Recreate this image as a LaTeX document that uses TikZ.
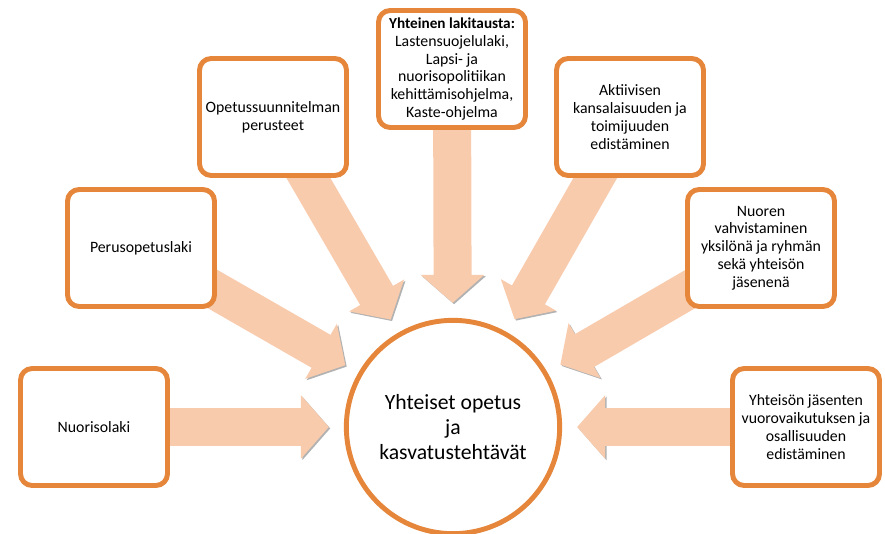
\documentclass[tikz,border=0pt]{standalone}
\usepackage{fontspec}
\setmainfont{Carlito}
\usetikzlibrary{arrows.meta,shadows,backgrounds}
\definecolor{boxorange}{RGB}{229,134,59}
\definecolor{arrowpeach}{RGB}{248,203,173}

\begin{document}
\begin{tikzpicture}[x=0.03cm,y=-0.03cm,
    box/.style={draw=boxorange,line width=4.2pt,rounded corners=10pt,fill=white,
        minimum width=4.41cm,minimum height=3.51cm,align=center,
        font=\fontsize{13.5}{15.2}\selectfont,
        drop shadow={shadow xshift=1.5pt,shadow yshift=-1.5pt,opacity=0.3}},
    goalcircle/.style={circle,draw=boxorange,line width=4.2pt,fill=white,
        minimum size=6.4cm,align=center,font=\fontsize{18.5}{21.5}\selectfont,
        drop shadow={shadow xshift=1.5pt,shadow yshift=-1.5pt,opacity=0.3}},
    feed/.style={arrowpeach,line width=1.14cm,-{Triangle[length=0.84cm,width=1.86cm]},
        shorten >=0.45cm,shorten <=-0.6cm,
        preaction={draw=black!30,transform canvas={shift={(1.2pt,-1.2pt)}}}}]
    \useasboundingbox (0,0) rectangle (885,534);

    % Central goal
    \node[goalcircle] (goal) at (453,427) {Yhteiset opetus\\ja\\kasvatustehtävät};

    % Sources round it
    \node[box] (nuoriso) at (94,427) {Nuorisolaki};
    \node[box] (perus) at (141,248) {Perusopetuslaki};
    \node[box] (ops) at (273,117) {Opetussuunnitelman\\perusteet};
    \node[box] (lait) at (452,69) {{\fontsize{13}{15.2}\selectfont\textbf{Yhteinen lakitausta:}}\\Lastensuojelulaki,\\Lapsi- ja\\nuorisopolitiikan\\kehittämisohjelma,\\Kaste-ohjelma};
    \node[box] (aktiiv) at (630,117) {Aktiivisen\\kansalaisuuden ja\\toimijuuden\\edistäminen};
    \node[box] (nuoren) at (761,248) {Nuoren\\vahvistaminen\\yksilönä ja ryhmän\\sekä yhteisön\\jäsenenä};
    \node[box] (yhteiso) at (806,427) {Yhteisön jäsenten\\vuorovaikutuksen ja\\osallisuuden\\edistäminen};

    % Block arrows into the circle
    \begin{scope}[on background layer]
        \foreach \src in {nuoriso,perus,ops,lait,aktiiv,nuoren,yhteiso}
            \draw[feed] (\src) -- (goal);
    \end{scope}
\end{tikzpicture}
\end{document}
